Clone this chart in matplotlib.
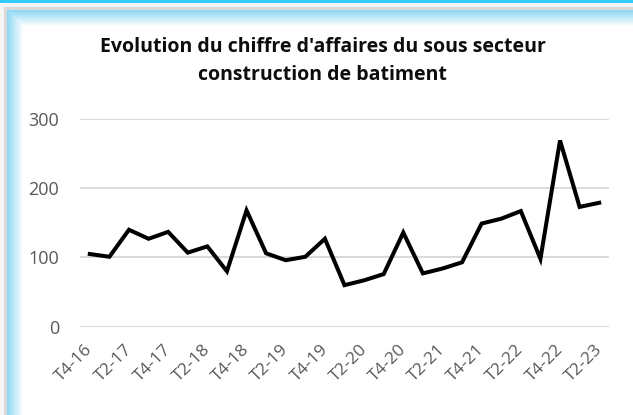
import numpy as np
import matplotlib
matplotlib.use("Agg")
import matplotlib.pyplot as plt
import matplotlib.transforms as mtrans

quarters = ["T4-16", "T1-17", "T2-17", "T3-17", "T4-17", "T1-18", "T2-18", "T3-18",
            "T4-18", "T1-19", "T2-19", "T3-19", "T4-19", "T1-20", "T2-20", "T3-20",
            "T4-20", "T1-21", "T2-21", "T3-21", "T4-21", "T1-22", "T2-22", "T3-22",
            "T4-22", "T1-23", "T2-23"]
values = [105, 101, 140, 127, 137, 107, 116, 80,
          168, 106, 96, 101, 127, 60, 67, 76,
          136, 77, 84, 93, 149, 156, 167, 98,
          269, 173, 179]
yticks = [0, 100, 200, 300]
title_lines = ["Evolution du chiffre d'affaires du sous secteur", "construction de batiment"]

W, H = 633, 415
fig = plt.figure(figsize=(W / 100, H / 100), dpi=100)

# Decorative frame (background image)
bg = np.ones((H, W, 3))
cyan = np.array([51, 204, 255]) / 255
light = np.array([143, 217, 245]) / 255
grey = np.array([217, 217, 217]) / 255
bg[0:4, :] = cyan
bg[4:8, :] = np.array([245, 245, 245]) / 255
bg[8:11, 4:] = grey
bg[8:, 4:7] = grey
bg[8:, 0:4] = np.array([245, 245, 245]) / 255
for i in range(16):
    t = i / 16
    c = light * (1 - t) + np.ones(3) * t
    r = 11 + i
    bg[r, 7 + i:] = np.minimum(bg[r, 7 + i:], c)
    bg[11 + i:, 7 + i] = np.minimum(bg[11 + i:, 7 + i], c)
bax = fig.add_axes([0, 0, 1, 1])
bax.imshow(bg, aspect="auto", interpolation="nearest")
bax.axis("off")

ax = fig.add_axes([80 / W, 1 - 326.7 / H, (609 - 80) / W, (326.7 - 119) / H])
ax.patch.set_alpha(0)
x = np.arange(len(values))
ax.plot(x, values, color="black", lw=2.9, solid_joinstyle="miter", zorder=3)
ax.set_xlim(-0.5, len(values) - 0.5)
ax.set_ylim(0, 300)
ax.set_yticks(yticks)
ax.set_yticklabels([str(v) for v in yticks], fontsize=13, color="#595959", family="Open Sans")
ax.yaxis.grid(True, color="#D9D9D9", lw=1.4)
ax.set_axisbelow(True)
for s in ax.spines.values():
    s.set_visible(False)
ax.tick_params(axis="y", length=0, pad=15)
ax.tick_params(axis="x", length=0, pad=11)
ax.set_xticks(x[::2])
ax.set_xticklabels(quarters[::2], rotation=45, ha="right", va="top",
                   rotation_mode="anchor", fontsize=12.5, color="#595959", family="Open Sans")
off = mtrans.ScaledTranslation(-5 / 100, 0, fig.dpi_scale_trans)
for lab in ax.get_xticklabels():
    lab.set_transform(lab.get_transform() + off)

fig.text(0.51, 1 - 47 / H, title_lines[0], ha="center", va="center", fontsize=14,
         fontweight="bold", family="Open Sans", color="#0d0d0d")
fig.text(0.51, 1 - 75 / H, title_lines[1], ha="center", va="center", fontsize=14,
         fontweight="bold", family="Open Sans", color="#0d0d0d")

fig.savefig("out.png", dpi=100)
